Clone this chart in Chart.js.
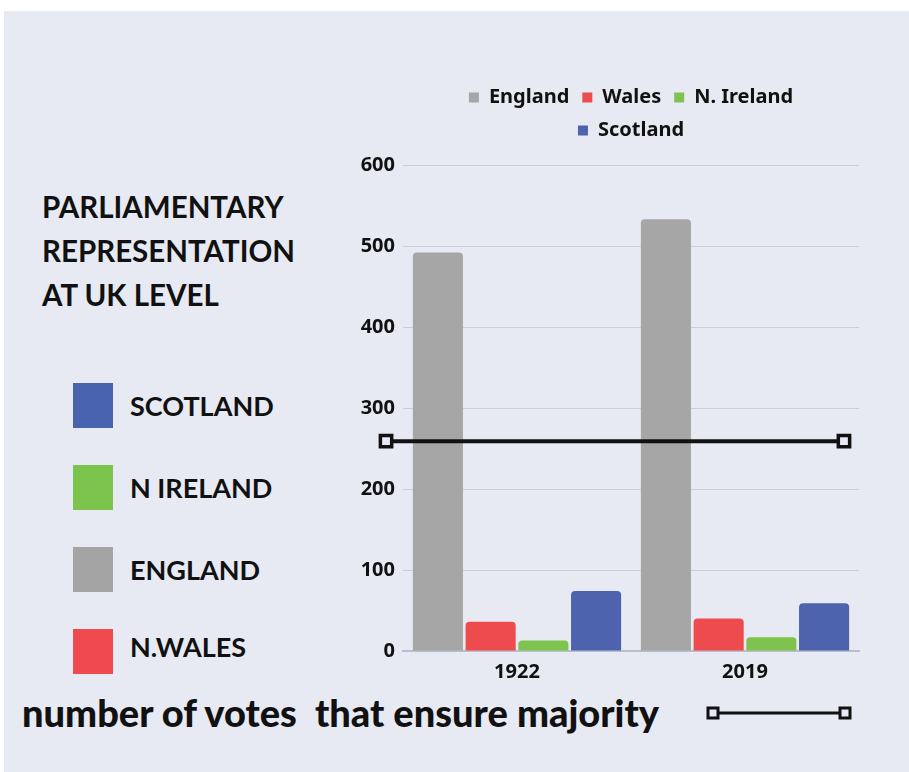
<!DOCTYPE html>
<html>
<head>
<meta charset="utf-8">
<script src="https://cdn.jsdelivr.net/npm/chart.js@4.4.0/dist/chart.umd.min.js"></script>
<style>
  body { margin: 0; background: #fff; width: 909px; height: 772px; overflow: hidden; position: relative; }
  #panel { position: absolute; left: 4px; top: 11px; right: 0; bottom: 0; background: #e7eaf3; }
  .txt { position: absolute; font-family: "Lato", sans-serif; font-weight: 700; color: #111; white-space: pre; }
  #title { left: 42px; top: 185px; font-size: 29.5px; line-height: 44px; }
  .key { position: absolute; left: 73px; width: 40px; height: 45px; }
  .keyLabel { left: 130px; font-size: 27px; line-height: 45px; }
  #note { left: 22px; top: 689px; font-size: 38px; line-height: 46px; font-weight: 900; }
  #noteLine { position: absolute; left: 700px; top: 700px; }
  .wrap { position: absolute; left: 340px; top: 69px; width: 569px; height: 624px; }
</style>
</head>
<body>
<div id="panel"></div>
<div id="title" class="txt">PARLIAMENTARY
REPRESENTATION
AT UK LEVEL</div>

<div class="key" style="top:383px;background:#4a63ae"></div>
<div class="txt keyLabel" style="top:383px">SCOTLAND</div>
<div class="key" style="top:465px;background:#7cc44e"></div>
<div class="txt keyLabel" style="top:465px">N IRELAND</div>
<div class="key" style="top:547px;background:#a4a4a4"></div>
<div class="txt keyLabel" style="top:547px">ENGLAND</div>
<div class="key" style="top:629px;background:#ee4a4f"></div>
<div class="txt keyLabel" style="top:624px">N.WALES</div>

<div id="note" class="txt">number of votes  that ensure majority</div>
<svg id="noteLine" width="160" height="26">
  <line x1="13" y1="13" x2="145" y2="13" stroke="#111" stroke-width="3"/>
  <rect x="8" y="8" width="10" height="10" fill="#e7eaf3" stroke="#111" stroke-width="3"/>
  <rect x="140" y="8" width="10" height="10" fill="#e7eaf3" stroke="#111" stroke-width="3"/>
</svg>

<div class="wrap"><canvas id="myChart"></canvas></div>
<div class="wrap"><canvas id="lineChart"></canvas></div>

<script>
//categories
const years = ["1922", "2019"];

//seats per nation
const england = [492, 533];
const wales = [36, 40];
const nIreland = [13, 17];
const scotland = [74, 59];

//votes that ensure majority, from one end of the line to the other
const majority = [259, 259];
const majorityEnds = [0, 1];

//y axis ticks
const yMin = 0;
const yMax = 600;
const yStep = 100;

const chartFont = { family: "'Noto Sans', sans-serif", size: 20, weight: "bold" };

function barSet(label, data, color) {
  return {
    label: label,
    data: data,
    backgroundColor: color,
    borderRadius: 4,
    barPercentage: 0.95,
    categoryPercentage: 0.925
  };
}

var ctx = document.getElementById("myChart").getContext("2d");
var ctx2 = document.getElementById("lineChart").getContext("2d");

//bars
var myChart = new Chart(ctx, {
  type: "bar",
  data: {
    labels: years,
    datasets: [
      barSet("England", england, "#a6a6a6"),
      barSet("Wales", wales, "#ee4b4f"),
      barSet("N. Ireland", nIreland, "#7dc34d"),
      barSet("Scotland", scotland, "#4e63ae")
    ]
  },
  options: {
    responsive: true,
    maintainAspectRatio: false,
    animation: false,
    layout: { padding: { left: 0, right: 50, top: 0, bottom: 0 } },
    plugins: {
      tooltip: { enabled: false },
      legend: {
        position: "top",
        fullSize: false,
        labels: {
          boxWidth: 10,
          boxHeight: 10,
          padding: 13,
          color: "#111",
          font: chartFont
        }
      },
      //empty box between the legend and the plot, just for spacing
      subtitle: {
        display: true,
        text: "",
        position: "top",
        fullSize: false,
        weight: 500,
        padding: 0,
        font: { size: 12 }
      }
    },
    scales: {
      x: {
        grid: { display: false, drawTicks: false },
        border: { color: "#b9bdcc", width: 2 },
        ticks: { color: "#111", font: chartFont, padding: 9 }
      },
      y: {
        min: yMin,
        max: yMax,
        ticks: { stepSize: yStep, color: "#111", font: chartFont, padding: 8 },
        grid: { color: "#cacdda", drawTicks: false },
        border: { display: false },
        afterFit: function (scale) {
          scale.width = 63;
          scale.paddingTop = 96;
        }
      }
    }
  }
});

//majority line, laid over the bars on the same y range
var lineChart = new Chart(ctx2, {
  type: "line",
  data: {
    datasets: [
      {
        data: majority.map((v, i) => ({ x: majorityEnds[i], y: v })),
        borderColor: "#111",
        borderWidth: 4,
        pointStyle: "rect",
        pointRadius: 8,
        pointBackgroundColor: "#e7eaf3",
        pointBorderColor: "#111",
        pointBorderWidth: 3.5
      }
    ]
  },
  options: {
    responsive: true,
    maintainAspectRatio: false,
    animation: false,
    layout: { padding: { left: 30, right: 49, top: 96, bottom: 42 } },
    plugins: { legend: { display: false }, tooltip: { enabled: false } },
    scales: {
      x: { type: "linear", display: false, min: -0.035, max: 1.035 },
      y: { display: false, min: yMin, max: yMax }
    }
  }
});
</script>
</body>
</html>
